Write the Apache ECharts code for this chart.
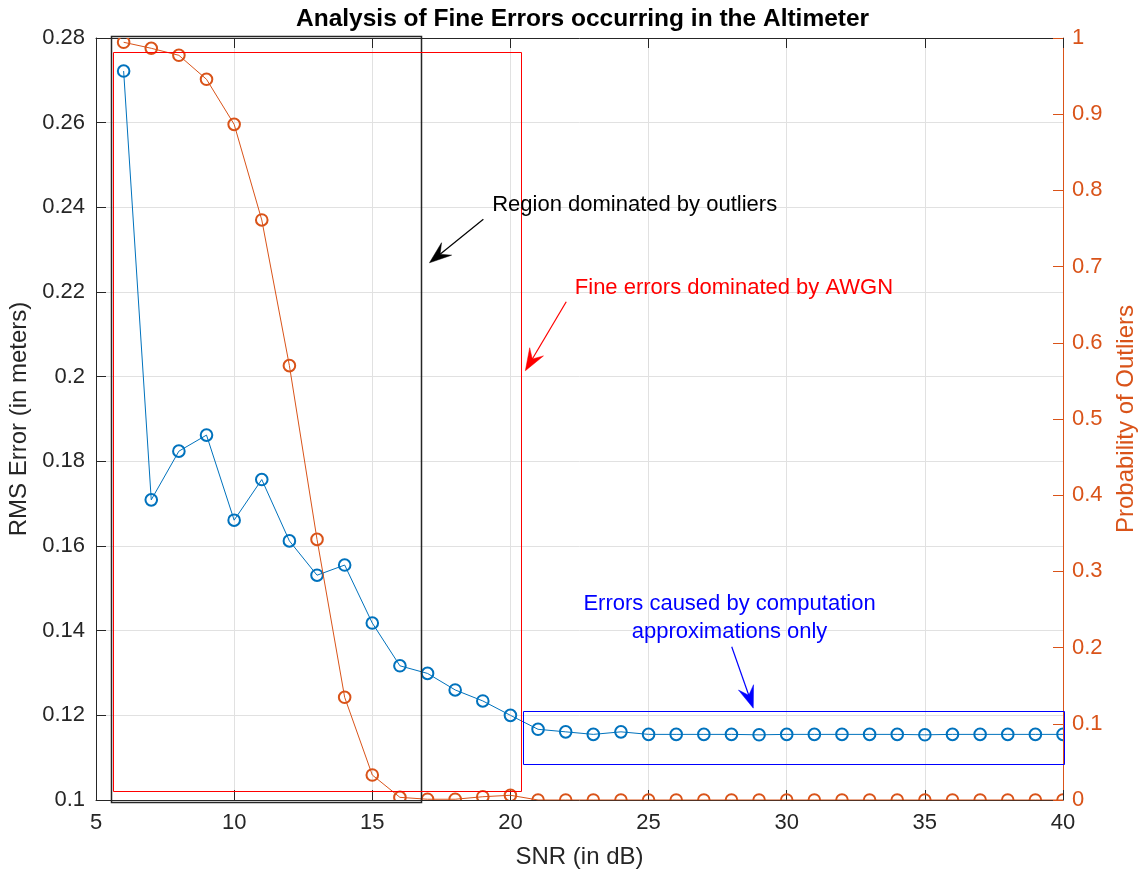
<!DOCTYPE html>
<html><head><meta charset="utf-8">
<script src="https://cdn.jsdelivr.net/npm/echarts@6/dist/echarts.min.js"></script>
<style>html,body{margin:0;padding:0;background:#fff}#c{width:1143px;height:871px}</style>
</head><body><div id="c"></div>
<script>
// ---- data ----
const snr = [6,7,8,9,10,11,12,13,14,15,16,17,18,19,20,21,22,23,24,25,26,27,28,29,30,31,32,33,34,35,36,37,38,39,40];
const rmsError = [0.2722,0.1709,0.1824,0.1862,0.1661,0.1757,0.1612,0.1531,0.1555,0.1418,0.1317,0.1299,0.1260,0.1234,0.1200,0.1167,0.1161,0.1155,0.1161,0.1155,0.1155,0.1155,0.1155,0.1154,0.1155,0.1155,0.1155,0.1155,0.1155,0.1154,0.1155,0.1155,0.1155,0.1155,0.1155];
const probOutliers = [0.9944,0.9865,0.9773,0.9458,0.8867,0.7612,0.570,0.342,0.1348,0.0328,0.0035,0.001,0.001,0.0043,0.0062,0,0,0,0,0,0,0,0,0,0,0,0,0,0,0,0,0,0,0,0];
const xTicks = [5,10,15,20,25,30,35,40];
const leftTicks = [0.1,0.12,0.14,0.16,0.18,0.2,0.22,0.24,0.26,0.28];
const rightTicks = [0,0.1,0.2,0.3,0.4,0.5,0.6,0.7,0.8,0.9,1];
// annotation rectangles in data units (x0, y0, x1, y1) on left axis
const rectBoxes = [[5.54,0.0995,16.78,0.2805],[5.63,0.1022,20.40,0.2768],[20.47,0.1084,40.04,0.1210]];
// annotation arrows (tail x, tail y, tip x, tip y)
const arrowLines = [[19.02,0.2372,17.07,0.2269],[22.02,0.2177,20.54,0.2014],[28.01,0.1362,28.79,0.1217]];
// annotation texts and anchor positions
const noteTexts = ['Region dominated by outliers','Fine errors dominated by AWGN','Errors caused by computation\napproximations only'];
const notePos = [[19.34,0.2406],[22.33,0.2209],[27.93,0.1430]];

// ---- styles ----
const FONT = 'Liberation Sans';
const BLUE = '#0072BD', ORANGE = '#D95319', AX = '#262626';
const rectColors = ['#262626','#FF0000','#0000FF'];
const rectWidths = [1.5,1,1];
const arrowColors = ['#000000','#FF0000','#0000FF'];
const noteColors = ['#000000','#FF0000','#0000FF'];
const noteAlign = ['left','left','center'];

const chart = echarts.init(document.getElementById('c'), null, {renderer:'canvas'});
const fmt = v => String(+(+v).toFixed(2));
const snap = v => Math.round(v) + 0.5;

function markerSeries(values, yIdx, color, z){
  return {
    type:'custom', xAxisIndex:0, yAxisIndex:yIdx, clip:true, z:z, silent:true,
    data:snr.map((x,i)=>[x, values[i]]),
    renderItem:(params, api)=>{
      const p = api.coord([api.value(0), api.value(1)]);
      return {type:'circle', shape:{cx:p[0], cy:p[1], r:5.8},
        style:{fill:null, stroke:color, lineWidth:2}};
    }
  };
}

chart.setOption({
  animation:false,
  backgroundColor:'#fff',
  title:{text:'Analysis of Fine Errors occurring in the Altimeter', left:291, top:2,
    textStyle:{fontFamily:FONT, fontSize:24.5, fontWeight:'bold', color:'#000'}},
  grid:{left:96, right:80, top:38, bottom:71, show:false, containLabel:false, outerBoundsMode:'none'},
  xAxis:[{
    type:'value', min:xTicks[0], max:xTicks[xTicks.length-1], interval:5, position:'bottom',
    axisLine:{show:true, lineStyle:{color:AX, width:1}},
    axisTick:{show:true, inside:true, length:10, lineStyle:{color:AX}},
    axisLabel:{color:AX, fontFamily:FONT, fontSize:22, margin:12, formatter:fmt},
    splitLine:{show:true, lineStyle:{color:'#e1e1e1', width:1}},
    name:'SNR (in dB)', nameLocation:'middle', nameGap:45,
    nameTextStyle:{fontFamily:FONT, fontSize:24, color:AX}
  },{
    type:'value', min:xTicks[0], max:xTicks[xTicks.length-1], interval:5, position:'top',
    axisLine:{show:true, lineStyle:{color:AX, width:1}},
    axisTick:{show:true, inside:true, length:10, lineStyle:{color:AX}},
    axisLabel:{show:false}, splitLine:{show:false}
  }],
  yAxis:[{
    type:'value', min:leftTicks[0], max:leftTicks[leftTicks.length-1], interval:0.02, position:'left',
    axisLine:{show:true, lineStyle:{color:AX, width:1}},
    axisTick:{show:true, inside:true, length:10, lineStyle:{color:AX}},
    axisLabel:{color:AX, fontFamily:FONT, fontSize:22, margin:11, formatter:fmt},
    splitLine:{show:true, lineStyle:{color:'#e1e1e1', width:1}},
    name:'RMS Error (in meters)', nameLocation:'middle', nameGap:60, nameRotate:90,
    nameTextStyle:{fontFamily:FONT, fontSize:24, color:AX}
  },{
    type:'value', min:rightTicks[0], max:rightTicks[rightTicks.length-1], interval:0.1, position:'right',
    axisLine:{show:true, lineStyle:{color:ORANGE, width:1}},
    axisTick:{show:true, inside:true, length:10, lineStyle:{color:ORANGE}},
    axisLabel:{color:ORANGE, fontFamily:FONT, fontSize:22, margin:9, formatter:fmt},
    splitLine:{show:false},
    name:'Probability of Outliers', nameLocation:'middle', nameGap:51, nameRotate:90,
    nameTextStyle:{fontFamily:FONT, fontSize:24, color:ORANGE}
  }],
  series:[
    {
      type:'line', name:'RMS', xAxisIndex:0, yAxisIndex:0,
      data:snr.map((x,i)=>[x, rmsError[i]]),
      symbol:'none', lineStyle:{color:BLUE, width:1},
      emphasis:{disabled:true}, z:3
    },
    markerSeries(rmsError, 0, BLUE, 3),
    {
      type:'line', name:'Prob', xAxisIndex:0, yAxisIndex:1,
      data:snr.map((x,i)=>[x, probOutliers[i]]),
      symbol:'none', lineStyle:{color:ORANGE, width:1},
      emphasis:{disabled:true}, z:4
    },
    markerSeries(probOutliers, 1, ORANGE, 4),
    {
      type:'custom', xAxisIndex:0, yAxisIndex:0, clip:false, z:6, silent:true,
      data:rectBoxes,
      renderItem:(params, api)=>{
        const p0 = api.coord([api.value(0), api.value(1)]);
        const p1 = api.coord([api.value(2), api.value(3)]);
        const x0 = snap(Math.min(p0[0],p1[0])), x1 = snap(Math.max(p0[0],p1[0]));
        const y0 = snap(Math.min(p0[1],p1[1])), y1 = snap(Math.max(p0[1],p1[1]));
        return {type:'rect', shape:{x:x0, y:y0, width:x1-x0, height:y1-y0},
          style:{fill:null, stroke:rectColors[params.dataIndex], lineWidth:rectWidths[params.dataIndex]}};
      }
    },
    {
      type:'custom', xAxisIndex:0, yAxisIndex:0, clip:false, z:7, silent:true,
      data:arrowLines,
      renderItem:(params, api)=>{
        const a = api.coord([api.value(0), api.value(1)]);
        const b = api.coord([api.value(2), api.value(3)]);
        const dx=b[0]-a[0], dy=b[1]-a[1], len=Math.hypot(dx,dy);
        const ux=dx/len, uy=dy/len, px=-uy, py=ux;
        const L=22, W=8, N=0.62*L;
        const c = arrowColors[params.dataIndex];
        return {type:'group', children:[
          {type:'line', shape:{x1:a[0], y1:a[1], x2:b[0]-ux*N, y2:b[1]-uy*N}, style:{stroke:c, lineWidth:1.2}},
          {type:'polygon', shape:{points:[
            [b[0],b[1]],
            [b[0]-ux*L+px*W, b[1]-uy*L+py*W],
            [b[0]-ux*N, b[1]-uy*N],
            [b[0]-ux*L-px*W, b[1]-uy*L-py*W]
          ]}, style:{fill:c, stroke:c, lineWidth:0.5}}
        ]};
      }
    },
    {
      type:'custom', xAxisIndex:0, yAxisIndex:0, clip:false, z:8, silent:true,
      data:notePos,
      renderItem:(params, api)=>{
        const p = api.coord([api.value(0), api.value(1)]);
        const i = params.dataIndex;
        return {type:'text', x:p[0], y:p[1], style:{text:noteTexts[i], fill:noteColors[i],
          font:'22px "Liberation Sans"', align:noteAlign[i], verticalAlign:'middle', lineHeight:28}};
      }
    }
  ]
});
</script></body></html>
